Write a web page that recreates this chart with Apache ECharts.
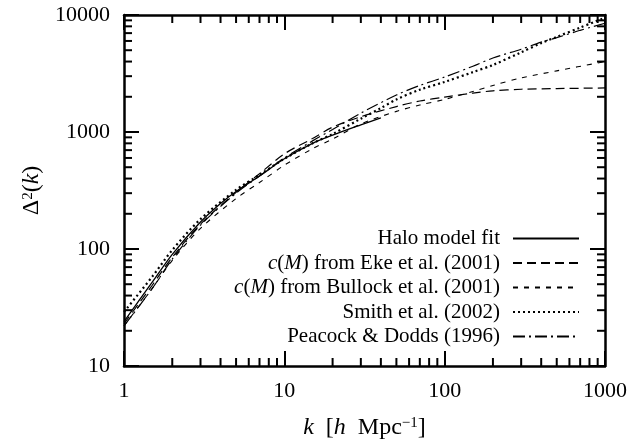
<!DOCTYPE html>
<html>
<head>
<meta charset="utf-8">
<script src="https://cdn.jsdelivr.net/npm/echarts@6/dist/echarts.min.js"></script>
<style>
  html, body { margin: 0; padding: 0; background: #fff; }
  #chart { width: 631px; height: 442px; }
</style>
</head>
<body>
<div id="chart"></div>
<script>
// values (k in h/Mpc, Delta^2)
const kHalo = [1, 1.5, 2, 3, 4, 5, 7, 10, 15, 20, 30, 40];
const halo = [24, 52, 90, 170, 245, 310, 420, 590, 800, 940, 1150, 1320];

const kLong = [1, 1.5, 2, 3, 5, 7, 10, 15, 20, 30, 50, 70, 100, 150, 200, 300, 500, 1000];
const eke = [23, 49, 85, 163, 305, 440, 650, 880, 1100, 1350, 1650, 1840, 1990, 2150, 2250, 2320, 2350, 2380];
const bullock = [22, 46, 80, 150, 270, 370, 520, 720, 870, 1170, 1500, 1700, 1900, 2220, 2500, 2900, 3330, 4000];

const kSmith = [1, 1.5, 2, 3, 5, 7, 10, 15, 20, 30, 40, 50, 70, 100, 150, 200, 300, 400, 500, 700, 1000];
const smith = [29, 58, 98, 180, 320, 430, 590, 800, 960, 1300, 1600, 1900, 2300, 2680, 3250, 3740, 4800, 5750, 6500, 7800, 9500];

const kPd = [1, 1.5, 2, 3, 5, 7, 10, 15, 20, 30, 50, 70, 100, 150, 200, 300, 400, 500, 700, 1000];
const peacock = [22, 46, 82, 160, 300, 420, 600, 840, 1050, 1450, 2070, 2500, 2950, 3650, 4290, 5100, 5870, 6400, 7400, 8500];

const names = [
  'Halo model fit',
  'c(M) from Eke et al. (2001)',
  'c(M) from Bullock et al. (2001)',
  'Smith et al. (2002)',
  'Peacock & Dodds (1996)',
];

// minor tick positions
const xMinor = [2, 3, 4, 5, 6, 7, 8, 9, 20, 30, 40, 50, 60, 70, 80, 90, 200, 300, 400, 500, 600, 700, 800, 900];
const yMinor = [20, 30, 40, 50, 60, 70, 80, 90, 200, 300, 400, 500, 600, 700, 800, 900,
  2000, 3000, 4000, 5000, 6000, 7000, 8000, 9000];

const X_MIN = 1, X_MAX = 1000, Y_MIN = 10, Y_MAX = 10000;
const FONT = 'Liberation Serif';

const pairs = (xs, ys) => xs.map((x, i) => [x, ys[i]]);

const lineSeries = (name, data, width, dash) => ({
  name,
  type: 'line',
  data,
  symbol: 'none',
  smooth: 0.3,
  xAxisIndex: 0,
  yAxisIndex: 0,
  lineStyle: { color: '#000', width, type: dash },
  itemStyle: { color: '#000' },
  z: 3,
});

const tickLine = (x1, y1, x2, y2) => ({
  type: 'line',
  shape: { x1, y1, x2, y2 },
  style: { stroke: '#000', lineWidth: 2 },
});

const chart = echarts.init(document.getElementById('chart'));

const logAxis = (min, max, position, showLabel) => ({
  type: 'log',
  logBase: 10,
  min,
  max,
  position,
  splitLine: { show: false },
  axisLine: { show: true, lineStyle: { color: '#000', width: 2.5 } },
  axisTick: { show: true, inside: true, length: 15, lineStyle: { color: '#000', width: 2 } },
  axisLabel: {
    show: showLabel,
    color: '#000',
    fontFamily: FONT,
    fontSize: 22,
    margin: 14,
    formatter: (v) => String(Math.round(v)),
  },
});

const nameStyle = {
  color: '#000', fontFamily: FONT, fontSize: 24,
  rich: {
    i: { fontStyle: 'italic', fontFamily: FONT, fontSize: 24 },
    s: { fontFamily: FONT, fontSize: 15, verticalAlign: 'top', padding: [0, 0, 9, 0] },
  },
};

const xMain = logAxis(X_MIN, X_MAX, 'bottom', true);
xMain.name = '{i|k}\u2002[{i|h}\u2002Mpc{s|\u22121}]';
xMain.nameLocation = 'middle';
xMain.nameGap = 50;
xMain.nameTextStyle = nameStyle;

const yMain = logAxis(Y_MIN, Y_MAX, 'left', true);
yMain.name = '\u0394{s|2}({i|k})';
yMain.nameLocation = 'middle';
yMain.nameRotate = 90;
yMain.nameGap = 66;
yMain.nameTextStyle = nameStyle;

const option = {
  animation: false,
  backgroundColor: '#fff',
  grid: { left: 124, right: 26, top: 15, bottom: 76, outerBoundsMode: 'none' },
  xAxis: [xMain, logAxis(X_MIN, X_MAX, 'top', false)],
  yAxis: [yMain, logAxis(Y_MIN, Y_MAX, 'right', false)],
  legend: {
    data: names,
    orient: 'vertical',
    align: 'right',
    right: 46,
    top: 223,
    itemWidth: 66,
    itemHeight: 14,
    itemGap: 3.5,
    selectedMode: false,
    itemStyle: { color: 'transparent', borderColor: 'transparent', borderWidth: 0 },
    textStyle: {
      color: '#000',
      fontFamily: FONT,
      fontSize: 21,
      padding: [0, 8, 0, 0],
      rich: { i: { fontStyle: 'italic', fontFamily: FONT, fontSize: 21 } },
    },
    formatter: (name) => name.replace(/c\(M\)/, '{i|c}({i|M})'),
  },
  series: [
    lineSeries(names[0], pairs(kHalo, halo), 1.3, 'solid'),
    lineSeries(names[1], pairs(kLong, eke), 1.2, [9, 5]),
    lineSeries(names[2], pairs(kLong, bullock), 1.1, [5, 6]),
    lineSeries(names[3], pairs(kSmith, smith), 2.2, [2, 3]),
    lineSeries(names[4], pairs(kPd, peacock), 1.2, [12, 4, 2, 4]),
    {
      type: 'custom',
      silent: true,
      data: xMinor.map((k) => [k, Y_MIN]),
      renderItem(params, api) {
        const b = api.coord([api.value(0), Y_MIN]);
        const t = api.coord([api.value(0), Y_MAX]);
        return {
          type: 'group',
          children: [tickLine(b[0], b[1], b[0], b[1] - 8), tickLine(t[0], t[1], t[0], t[1] + 8)],
        };
      },
      z: 5,
    },
    {
      type: 'custom',
      silent: true,
      data: yMinor.map((v) => [X_MIN, v]),
      renderItem(params, api) {
        const l = api.coord([X_MIN, api.value(1)]);
        const r = api.coord([X_MAX, api.value(1)]);
        return {
          type: 'group',
          children: [tickLine(l[0], l[1], l[0] + 8, l[1]), tickLine(r[0], r[1], r[0] - 8, r[1])],
        };
      },
      z: 5,
    },
  ],
};

chart.setOption(option);
</script>
</body>
</html>
